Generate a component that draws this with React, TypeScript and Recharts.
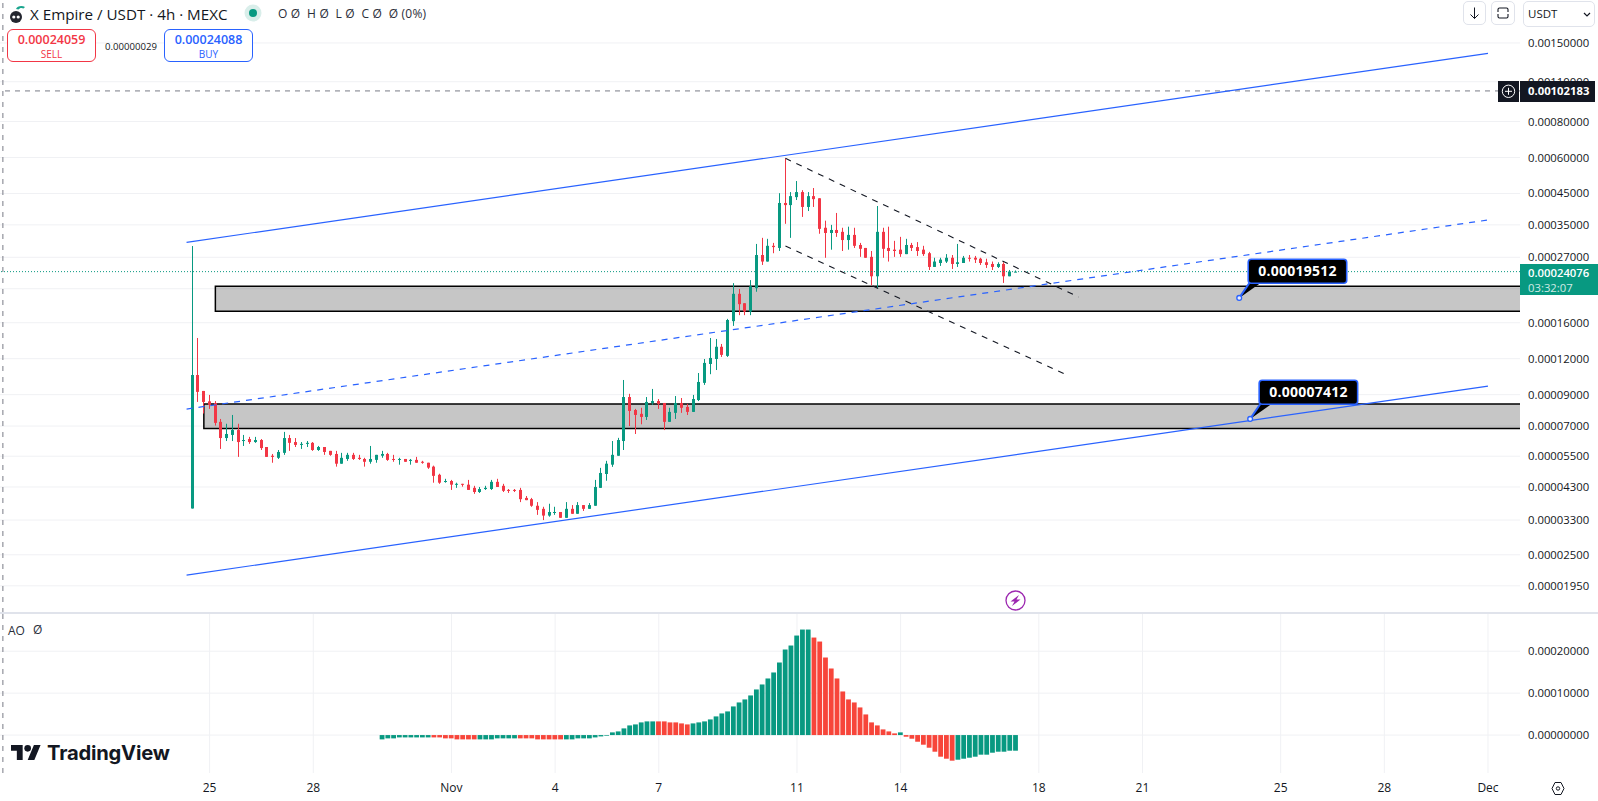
import React from "react";
import {
  ComposedChart, Bar, XAxis, YAxis, CartesianGrid,
  ReferenceLine, ReferenceArea, ReferenceDot,
} from "recharts";

// Prices are in units of 0.00001 USDT
const UNIT = 1e-5;
const opens = [3.62,10.53,9.27,8.53,8.42,7.24,6.36,6.52,6.78,6.21,6.31,6.16,6.26,5.92,5.52,5.43,5.65,6.36,6.16,6.02,6.07,6.12,5.78,5.92,5.74,5.60,5.18,5.38,5.56,5.43,5.38,5.26,5.34,5.52,5.60,5.38,5.34,5.38,5.33,5.34,5.26,5.22,5.06,4.74,4.48,4.51,4.38,4.41,4.38,4.27,4.13,4.23,4.23,4.48,4.34,4.20,4.20,4.20,3.94,3.90,3.70,3.61,3.42,3.50,3.52,3.36,3.61,3.47,3.72,3.61,3.70,4.27,4.77,5.14,5.52,6.21,8.83,7.96,7.72,7.53,8.42,8.55,8.42,7.24,7.78,8.42,8.16,7.84,8.62,9.89,11.5,11.97,13.2,12.27,16.2,20.16,18.7,17.5,21.1,27.5,26.1,29.6,29.1,41.7,41.0,43.7,45.5,40.4,44.05,43.3,34.2,32.8,33.6,33.1,31.0,32.3,29.8,29.1,27.1,23.2,33.1,29.1,28.7,28.7,27.7,29.8,29.3,28.7,27.9,25.0,25.8,26.1,26.9,25.6,25.8,26.9,26.9,26.7,25.95,25.6,25.0,25.6,23.2,24.05];
const highs = [29.55,14.16,9.27,8.98,8.55,7.41,7.13,7.65,7.13,6.52,6.42,6.42,6.31,5.92,5.60,5.78,6.68,6.52,6.36,6.16,6.21,6.16,5.97,5.92,5.74,5.74,5.65,5.65,5.65,5.56,5.43,5.97,5.56,5.74,5.65,5.56,5.43,5.38,5.38,5.47,5.30,5.22,5.10,4.78,4.59,4.55,4.45,4.41,4.55,4.34,4.30,4.34,4.55,4.59,4.41,4.23,4.23,4.27,4.00,3.94,3.81,3.67,3.76,3.67,3.52,3.81,3.72,3.81,3.72,3.78,4.55,5.01,5.30,6.21,6.37,10.12,9.06,8.03,8.10,8.83,9.42,8.69,8.42,8.10,8.90,8.76,8.36,8.98,10.7,11.97,14.16,14.05,13.5,16.5,21.96,20.96,18.7,22.5,30.05,31.55,31.3,30.3,45.1,59.6,45.5,49.7,46.2,45.5,47.0,43.3,36.2,35.0,38.5,34.2,34.5,34.2,30.3,29.1,28.4,40.7,34.2,34.5,30.8,31.8,31.3,30.3,30.5,29.6,28.2,26.9,26.9,27.7,27.5,30.05,27.3,27.5,27.3,26.9,26.7,26.1,25.95,25.95,24.4,24.3];
const lows = [3.62,8.49,7.74,8.03,7.03,5.83,6.21,6.21,5.47,5.97,6.07,6.12,5.78,5.47,5.22,5.38,5.56,5.74,5.92,5.83,5.92,5.74,5.74,5.56,5.52,5.06,5.18,5.30,5.34,5.34,5.06,5.18,5.22,5.43,5.30,5.26,5.14,5.26,5.14,5.22,5.18,4.97,4.45,4.41,4.45,4.20,4.27,4.31,4.20,4.07,4.10,4.20,4.20,4.30,4.13,4.10,4.13,3.81,3.87,3.67,3.44,3.30,3.39,3.44,3.36,3.36,3.47,3.47,3.55,3.61,3.70,4.27,4.52,5.05,5.52,5.78,7.0,6.57,7.10,7.35,8.29,8.03,6.78,7.24,7.41,7.78,7.65,7.84,8.55,9.73,10.6,10.96,12.17,12.17,15.6,17.0,17.0,17.0,20.5,25.4,26.1,27.9,28.4,35.3,31.55,42.7,37.3,39.1,40.4,32.6,26.9,28.7,31.8,28.4,28.7,29.1,27.1,26.9,21.6,21.1,26.9,26.1,27.1,27.1,27.7,28.4,27.3,27.3,24.4,25.0,25.2,25.8,24.6,25.0,25.8,26.1,25.8,25.4,24.8,24.4,24.8,22.0,23.2,24.0];
const closes = [10.53,9.20,8.49,8.29,7.18,6.36,6.57,6.78,6.16,6.26,6.16,6.26,5.87,5.47,5.47,5.69,6.36,6.12,6.02,6.07,6.12,5.78,5.92,5.69,5.56,5.18,5.43,5.56,5.38,5.38,5.26,5.38,5.56,5.60,5.34,5.34,5.38,5.26,5.34,5.22,5.22,5.02,4.70,4.45,4.51,4.38,4.41,4.38,4.20,4.13,4.23,4.27,4.48,4.30,4.17,4.19,4.19,3.90,3.87,3.70,3.58,3.42,3.52,3.52,3.36,3.61,3.47,3.72,3.61,3.72,4.30,4.81,5.18,5.56,6.26,8.83,7.90,7.65,7.53,8.49,8.55,8.36,7.24,7.84,8.42,8.10,7.84,8.69,9.96,11.6,12.07,13.2,12.37,16.35,20.16,18.56,17.5,21.4,27.5,26.1,29.6,29.3,41.7,41.0,44.05,45.5,40.4,44.05,43.0,33.9,32.8,33.6,32.8,31.0,32.3,29.6,28.9,26.9,23.2,33.1,28.9,28.4,28.4,27.7,29.8,29.1,28.4,27.7,25.0,26.1,26.5,26.9,25.6,25.95,26.9,26.7,26.5,25.8,25.4,25.0,25.6,23.2,24.1,24.076];

// Awesome Oscillator, in units of 0.000001, starting at candle 33
const AO_FIRST = 33;
const aoValues = [-10.3,-7.9,-7.9,-5.6,-5.6,-5.6,-5.6,-5.6,-5.6,-5.6,-5.6,-7.9,-7.9,-10.3,-10.3,-10.3,-10.3,-10.3,-10.3,-10.3,-7.9,-7.9,-7.9,-7.9,-7.9,-7.9,-7.9,-10.3,-10.3,-10.3,-10.3,-10.3,-10.3,-10.3,-7.9,-7.9,-7.9,-5.6,-3.2,-1.6,6.4,8.7,15.9,23,25.4,30.2,32.6,32.6,32.6,32.6,30.2,30.2,27.8,25.4,27.8,30.2,32.6,37.3,44.5,51.6,56.4,68.3,77.8,85,94.5,108.8,120.7,135,149.3,173.1,204.1,213.6,237.4,251.7,251.7,232.6,223.1,185,158.8,135,104,85,77.8,65.9,49.2,30.2,23,13.5,8.7,4,6.4,-4,-8.7,-15.9,-23,-30.2,-39.7,-51.6,-56.4,-61.1,-58.8,-56.4,-54,-51.6,-46.8,-46.8,-42.1,-39.7,-39.7,-37.3,-37.3];
const aoDirections = "GGGGGGGGGRRRRRRRRGGGGGGGRRRRRRRRGGGGGGGGGGGGGGGGRRRRRRGGGGGGGGGGGGGGGGGGGGGRRRRRRRRRRRRRRRGRRRRRRRRRGGGGGGGGGGG";

const priceTicks = [0.0015,0.0011,0.0008,0.0006,0.00045,0.00035,0.00027,0.00021,0.00016,0.00012,0.00009,0.00007,0.000055,0.000043,0.000033,0.000025,0.0000195];
const hiddenPriceTick = 0.00021;
const aoTicks = [0, 0.0001, 0.0002];
const timeTickIndex = [3,21,45,63,81,105,123,147,165,189,207,225];
const timeTickLabels = ["25","28","Nov","4","7","11","14","18","21","25","28","Dec"];

// Drawings: [candle index, price in 0.00001 units]
const upperChannel = [[-1,30.44],[225,138.1]];
const middleChannel = [[-1,8.02],[225,36.4]];
const lowerChannel = [[-1,2.125],[225,9.64]];
const wedgeTop = [[103,59.6],[153.9,19.65]];
const wedgeBottom = [[103,29.55],[151.9,10.53]];
const upperZone = { from: 4, top: 21.41, bottom: 17.53 };
const lowerZone = { from: 2, top: 8.35, bottom: 6.87 };
const callouts = [
  { index: 181.8, price: 19.512, label: "0.00019512" },
  { index: 183.7, price: 7.412, label: "0.00007412" },
];
const alertPrice = 0.00102183;
const lastPrice = 0.00024076;
const verticalMarkerIndex = -32.9;

const GREEN = "#089981";
const RED = "#f23645";
const AO_RED = "#f7453a";
const BLUE = "#2962ff";
const GRID = "#f0f1f4";
const INK = "#131722";
const FONT = "'Open Sans', 'Noto Sans', sans-serif";

const X_DOMAIN: [number, number] = [-33.4, 230.56];
const Y_DOMAIN: [number, number] = [0.00001569, 0.002115];
const AO_DOMAIN: [number, number] = [-0.0000905, 0.0002888];

const candles = opens.map((o, i) => ({
  i, open: o * UNIT, high: highs[i] * UNIT, low: lows[i] * UNIT, close: closes[i] * UNIT,
  range: [lows[i] * UNIT, highs[i] * UNIT],
}));
const aoData = aoValues.map((v, k) => ({ i: AO_FIRST + k, ao: v * 1e-6, dir: aoDirections[k] }));

const fmt8 = (v: number) => v.toFixed(8);
const priceLabel = (v: number) => (v === hiddenPriceTick ? "" : fmt8(v));
const timeLabel = (v: number) => timeTickLabels[timeTickIndex.indexOf(v)] ?? "";

function Candle(props: any) {
  const { x, y, width, height, payload } = props;
  if (!payload || height == null) return null;
  const { open, high, low, close } = payload;
  const span = Math.log(high / low) || 1;
  const at = (p: number) => y + (height * Math.log(high / p)) / span;
  const cx = Math.round(x + width / 2 - 0.5) + 0.5;
  const top = at(Math.max(open, close));
  const bottom = at(Math.min(open, close));
  const color = close >= open ? GREEN : RED;
  return (
    <g>
      <rect x={cx - 0.5} y={y} width={1} height={Math.max(height, 1)} fill={color} />
      <rect x={cx - 1.5} y={top} width={3} height={Math.max(bottom - top, 1)} fill={color} />
    </g>
  );
}

function AoBar(props: any) {
  const { x, y, width, height, payload } = props;
  const top = height < 0 ? y + height : y;
  const h = Math.abs(height);
  return <rect x={x + width / 2 - 2.4} y={top} width={4.8} height={h} fill={payload.dir === "G" ? GREEN : AO_RED} />;
}

function Zone(props: any) {
  const { x, y, width, height } = props;
  const r = x + width;
  return (
    <g>
      <rect x={x} y={y} width={width} height={height} fill="rgba(0,0,0,0.225)" />
      <path d={`M${r} ${y}H${x}V${y + height}H${r}`} fill="none" stroke="#000" strokeWidth={1.5} />
    </g>
  );
}

function Callout(props: any) {
  const { cx, cy, label } = props;
  const left = cx + 9;
  const top = cy - 38.7;
  return (
    <g>
      <path d={`M${cx} ${cy}L${left + 1} ${cy - 14.7}H${left + 12}Z`} fill="#000" />
      <line x1={cx} y1={cy} x2={left + 1} y2={cy - 14.7} stroke={BLUE} strokeWidth={2} />
      <rect x={left} y={top} width={98.5} height={24} rx={3} fill="#000" stroke={BLUE} strokeWidth={1.6} />
      <text x={left + 49.3} y={top + 16.5} textAnchor="middle" fill="#fff" fontFamily={FONT} fontWeight={700} fontSize={14} letterSpacing={0.25}>{label}</text>
      <circle cx={cx} cy={cy} r={2.4} fill="#e8eeff" stroke={BLUE} strokeWidth={1.3} />
    </g>
  );
}

const seg = (pts: number[][]): any => [
  { x: pts[0][0], y: pts[0][1] * UNIT },
  { x: pts[1][0], y: pts[1][1] * UNIT },
];

const abs = (left: number, top: number, extra: React.CSSProperties = {}): React.CSSProperties => ({
  position: "absolute", left, top, fontFamily: FONT, color: INK, whiteSpace: "nowrap", ...extra,
});

function QuoteBox({ left, color, price, side }: { left: number; color: string; price: string; side: string }) {
  return (
    <div style={abs(left, 29, { width: 89, height: 33, boxSizing: "border-box", border: `1px solid ${color}`, borderRadius: 6, textAlign: "center", color, background: "#fff" })}>
      <div style={{ fontSize: 12.5, fontWeight: 600, lineHeight: "17px", marginTop: 1 }}>{price}</div>
      <div style={{ fontSize: 10, lineHeight: "12px" }}>{side}</div>
    </div>
  );
}

const btn: React.CSSProperties = { boxSizing: "border-box", border: "1px solid #e0e3eb", borderRadius: 5, background: "#fff" };

export default function App() {
  return (
    <div style={{ position: "absolute", left: 0, top: 0, width: 1598, height: 801, overflow: "hidden", background: "#fff" }}>
      <div style={{ position: "absolute", left: 0, top: 0 }}>
        <ComposedChart width={1598} height={613} data={candles} margin={{ top: 0, right: 0, bottom: 0, left: 0 }}>
          <CartesianGrid stroke={GRID} strokeWidth={1} syncWithTicks />
          <XAxis dataKey="i" type="number" domain={X_DOMAIN} allowDataOverflow ticks={timeTickIndex} interval={0} tick={false} axisLine={false} tickLine={false} height={0} />
          <YAxis orientation="right" width={78} scale="log" domain={Y_DOMAIN} allowDataOverflow ticks={priceTicks} interval={0} tickFormatter={priceLabel} axisLine={false} tickLine={false} tickMargin={2} tick={{ fontSize: 11.3, fill: INK, fontFamily: FONT }} />
          <ReferenceArea x1={upperZone.from} x2={X_DOMAIN[1]} y1={upperZone.bottom * UNIT} y2={upperZone.top * UNIT} shape={Zone} />
          <ReferenceArea x1={lowerZone.from} x2={X_DOMAIN[1]} y1={lowerZone.bottom * UNIT} y2={lowerZone.top * UNIT} shape={Zone} />
          <Bar dataKey="range" barSize={6} shape={Candle} isAnimationActive={false} />
          <ReferenceLine y={lastPrice} stroke={GREEN} strokeDasharray="1 2" strokeWidth={1} />
          <ReferenceLine y={alertPrice} stroke="#787b86" strokeDasharray="5 5" strokeWidth={1} />
          <ReferenceLine x={verticalMarkerIndex} stroke="#787b86" strokeDasharray="5 6" strokeWidth={1} />
          <ReferenceLine segment={seg(upperChannel)} stroke={BLUE} strokeWidth={1.2} />
          <ReferenceLine segment={seg(middleChannel)} stroke={BLUE} strokeWidth={1.2} strokeDasharray="6 6" />
          <ReferenceLine segment={seg(lowerChannel)} stroke={BLUE} strokeWidth={1.2} />
          <ReferenceLine segment={seg(wedgeTop)} stroke={INK} strokeWidth={1.1} strokeDasharray="6 6" />
          <ReferenceLine segment={seg(wedgeBottom)} stroke={INK} strokeWidth={1.1} strokeDasharray="6 6" />
          {callouts.map((c) => (
            <ReferenceDot key={c.label} x={c.index} y={c.price * UNIT} r={3} shape={(p: any) => <Callout {...p} label={c.label} />} />
          ))}
        </ComposedChart>
      </div>

      <div style={{ position: "absolute", left: 0, top: 612, width: 1598, height: 2, background: "#e0e3eb" }} />

      <div style={{ position: "absolute", left: 0, top: 613 }}>
        <ComposedChart width={1598} height={188} data={aoData} margin={{ top: 1, right: 0, bottom: 0, left: 0 }}>
          <CartesianGrid stroke={GRID} strokeWidth={1} syncWithTicks />
          <XAxis dataKey="i" type="number" domain={X_DOMAIN} allowDataOverflow ticks={timeTickIndex} interval={0} tickFormatter={timeLabel} axisLine={false} tickLine={false} height={28} tickMargin={4} tick={{ fontSize: 12, fill: INK, fontFamily: FONT }} />
          <YAxis orientation="right" width={78} domain={AO_DOMAIN} allowDataOverflow ticks={aoTicks} interval={0} tickFormatter={fmt8} axisLine={false} tickLine={false} tickMargin={2} tick={{ fontSize: 11.3, fill: INK, fontFamily: FONT }} />
          <ReferenceLine x={verticalMarkerIndex} stroke="#787b86" strokeDasharray="5 6" strokeWidth={1} />
          <Bar dataKey="ao" barSize={6} shape={AoBar} isAnimationActive={false} />
        </ComposedChart>
      </div>

      {/* Price tags */}
      <div style={abs(1520, 264, { width: 78, height: 31, background: GREEN, color: "#fff", fontSize: 11.3, fontWeight: 600, lineHeight: "15px", textAlign: "left", paddingLeft: 8, boxSizing: "border-box", paddingTop: 1 })}>
        0.00024076
        <div style={{ fontWeight: 400, opacity: 0.8 }}>03:32:07</div>
      </div>
      <div style={abs(1498, 81, { width: 21, height: 20.5, background: INK })}>
        <svg width="21" height="20" viewBox="0 0 21 20"><circle cx="10.5" cy="10.3" r="6.2" fill="none" stroke="#fff" strokeWidth="1" /><path d="M10.5 6.8v7M7 10.3h7" stroke="#fff" strokeWidth="1" /></svg>
      </div>
      <div style={abs(1520, 81, { width: 75, height: 20.5, background: INK, color: "#fff", fontSize: 11.3, fontWeight: 700, lineHeight: "20.5px", paddingLeft: 8, boxSizing: "border-box" })}>0.00102183</div>

      {/* Header */}
      <svg style={{ position: "absolute", left: 8, top: 4 }} width="20" height="20" viewBox="0 0 20 20">
        <path d="M8 5C9 2 14 1 17 3l-1.5 1.5c-2-1-4-.5-5 1z" fill="#1aa58e" />
        <circle cx="8" cy="13" r="6" fill="#23262f" />
        <circle cx="5.8" cy="13" r="1.6" fill="#fff" /><circle cx="10.2" cy="13" r="1.6" fill="#fff" />
      </svg>
      <div style={abs(30, 4, { fontSize: 15.2, lineHeight: "20px", color: INK })}>X Empire / USDT · 4h · MEXC</div>
      <svg style={{ position: "absolute", left: 244, top: 4 }} width="18" height="18"><circle cx="9" cy="9" r="8.5" fill="#d9eeea" /><circle cx="9" cy="9" r="4" fill={GREEN} /></svg>
      <div style={abs(278, 5, { fontSize: 12, lineHeight: "18px", color: "#2a2e39", whiteSpace: "pre", letterSpacing: 0.2 })}>O Ø  H Ø  L Ø  C Ø  Ø (0%)</div>
      <QuoteBox left={7} color={RED} price="0.00024059" side="SELL" />
      <div style={abs(105, 40, { fontSize: 9.6, lineHeight: "13px" })}>0.00000029</div>
      <QuoteBox left={164} color={BLUE} price="0.00024088" side="BUY" />

      {/* Top-right controls */}
      <div style={abs(1463, 1, { ...btn, width: 23, height: 24 })}>
        <svg width="21" height="22" viewBox="0 0 21 22"><path d="M10.5 5.5v11M6.5 12.5l4 4 4-4" fill="none" stroke={INK} strokeWidth="1" /></svg>
      </div>
      <div style={abs(1491, 1, { ...btn, width: 24, height: 24 })}>
        <svg width="22" height="22" viewBox="0 0 22 22"><path d="M6 10V7.5q0-1.500 1.500-1.500h7q1.500 0 1.500 1.500V10M6 12v2.500q0 1.500 1.500 1.500h7q1.500 0 1.500-1.500V12" fill="none" stroke={INK} strokeWidth="1.1" /></svg>
      </div>
      <div style={abs(1523, 1, { ...btn, width: 72, height: 26, fontSize: 11.5, lineHeight: "24px", paddingLeft: 4 })}>
        USDT
        <svg style={{ position: "absolute", left: 59, top: 10 }} width="8" height="6"><path d="M1 1l3 3 3-3" fill="none" stroke={INK} strokeWidth="1.2" /></svg>
      </div>

      {/* AO legend */}
      <div style={abs(8, 622, { fontSize: 12, lineHeight: "17px", color: "#2a2e39" })}>AO</div>
      <div style={abs(33, 621, { fontSize: 12, lineHeight: "17px", color: "#2a2e39" })}>Ø</div>

      {/* Logo */}
      <svg style={{ position: "absolute", left: 11, top: 745 }} width="30" height="15" viewBox="0 4 36 18">
        <path d="M14 22H7V11H0V4h14v18zM28 22h-8l7.500-18h8L28 22z" fill={INK} /><circle cx="20" cy="8" r="4" fill={INK} />
      </svg>
      <div style={abs(47, 739, { fontFamily: "Inter, sans-serif", fontWeight: 700, fontSize: 20.2, lineHeight: "28px", letterSpacing: -0.2 })}>TradingView</div>

      {/* Lightning badge */}
      <svg style={{ position: "absolute", left: 1005, top: 590 }} width="21" height="21" viewBox="0 0 21 21">
        <circle cx="10.5" cy="10.5" r="9.5" fill="#fff" stroke="#9c27b0" strokeWidth="1.3" />
        <path d="M14 5L5.500 11.500h4L7 16l8.500-6.500h-4z" fill="#9c27b0" />
      </svg>

      {/* Settings */}
      <svg style={{ position: "absolute", left: 1551, top: 781 }} width="14" height="15" viewBox="0 0 14 15">
        <path d="M4 1.500h6L13 7.500l-3 6H4l-3-6z" fill="none" stroke={INK} strokeWidth="1" /><circle cx="7" cy="7.500" r="1.700" fill="none" stroke={INK} strokeWidth="1" />
      </svg>
    </div>
  );
}
